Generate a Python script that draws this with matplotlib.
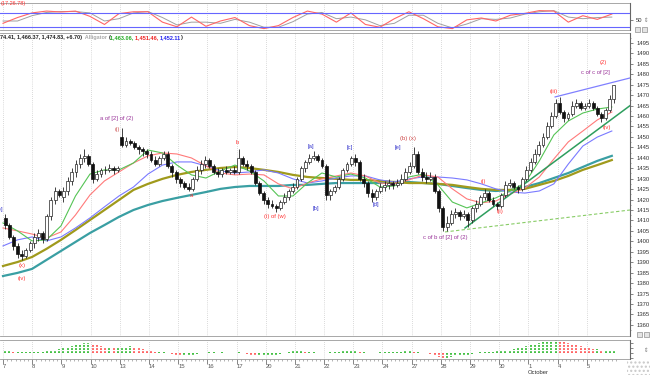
import numpy as np
import matplotlib.pyplot as plt
from matplotlib.patches import Rectangle

plt.rcParams['font.family'] = ['Liberation Sans', 'DejaVu Sans']

# trading days shown on the x axis (September ... October)
day_labels = ['7', '8', '9', '10', '13', '14', '15', '16', '17', '20', '21',
              '22', '23', '24', '27', '28', '29', '30', '1', '4', '5']

# hourly bars, one row per day (7 bars a day)
opens = [
    [1411, 1408, 1402, 1398, 1394, 1393, 1396],
    [1399, 1402, 1404, 1401, 1412, 1420, 1424],
    [1421, 1424, 1429, 1433, 1437, 1440, 1441],
    [1437, 1430, 1432, 1434, 1434, 1435, 1434],
    [1450, 1446, 1448, 1447, 1445, 1444, 1443],
    [1442, 1439, 1437, 1440, 1442, 1436, 1433],
    [1430, 1428, 1426, 1425, 1430, 1434, 1437],
    [1439, 1436, 1433, 1432, 1434, 1433, 1434],
    [1433, 1440, 1437, 1436, 1433, 1428, 1423],
    [1420, 1418, 1417, 1416, 1419, 1421, 1424],
    [1426, 1430, 1435, 1438, 1440, 1441, 1439],
    [1436, 1422, 1424, 1426, 1430, 1434, 1437],
    [1440, 1438, 1430, 1428, 1423, 1421, 1424],
    [1426, 1427, 1428, 1427, 1428, 1430, 1433],
    [1436, 1442, 1433, 1431, 1430, 1431, 1424],
    [1416, 1407, 1409, 1413, 1414, 1412, 1413],
    [1410, 1416, 1418, 1421, 1423, 1420, 1418],
    [1417, 1422, 1427, 1428, 1426, 1425, 1430],
    [1434, 1438, 1442, 1446, 1450, 1455, 1460],
    [1466, 1462, 1459, 1461, 1465, 1466, 1464],
    [1465, 1466, 1464, 1461, 1459, 1463, 1468],
]
highs = [
    [1413, 1409, 1403, 1399, 1396, 1397, 1400],
    [1404, 1406, 1405, 1413, 1421, 1426, 1425],
    [1426, 1431, 1435, 1439, 1442, 1444, 1442],
    [1438, 1434, 1435, 1436, 1437, 1436, 1436],
    [1454, 1450, 1449, 1448, 1446, 1445, 1444],
    [1443, 1441, 1441, 1443, 1443, 1437, 1434],
    [1431, 1429, 1428, 1431, 1436, 1439, 1441],
    [1440, 1437, 1435, 1435, 1436, 1435, 1436],
    [1444, 1441, 1439, 1437, 1434, 1429, 1424],
    [1421, 1420, 1418, 1420, 1423, 1425, 1428],
    [1431, 1436, 1439, 1442, 1443, 1442, 1440],
    [1437, 1425, 1427, 1431, 1435, 1438, 1441],
    [1442, 1439, 1432, 1429, 1425, 1425, 1428],
    [1429, 1430, 1429, 1430, 1432, 1435, 1438],
    [1445, 1443, 1435, 1433, 1433, 1432, 1425],
    [1417, 1412, 1415, 1416, 1415, 1415, 1414],
    [1417, 1420, 1422, 1425, 1424, 1421, 1419],
    [1423, 1429, 1430, 1429, 1427, 1431, 1436],
    [1440, 1444, 1448, 1452, 1457, 1462, 1468],
    [1469, 1463, 1462, 1467, 1468, 1467, 1466],
    [1468, 1467, 1465, 1462, 1464, 1470, 1475],
]
lows = [
    [1406, 1401, 1396, 1392, 1391, 1392, 1395],
    [1397, 1400, 1399, 1400, 1410, 1418, 1421],
    [1419, 1422, 1427, 1431, 1435, 1438, 1436],
    [1428, 1429, 1431, 1432, 1433, 1432, 1433],
    [1445, 1445, 1446, 1444, 1442, 1441, 1440],
    [1438, 1436, 1436, 1439, 1435, 1431, 1428],
    [1426, 1425, 1424, 1424, 1429, 1432, 1435],
    [1435, 1432, 1431, 1431, 1432, 1432, 1432],
    [1432, 1436, 1434, 1432, 1427, 1422, 1418],
    [1416, 1416, 1414, 1415, 1418, 1420, 1423],
    [1425, 1429, 1433, 1437, 1439, 1438, 1435],
    [1420, 1420, 1423, 1425, 1429, 1433, 1436],
    [1436, 1429, 1426, 1421, 1419, 1420, 1423],
    [1424, 1425, 1425, 1426, 1427, 1429, 1432],
    [1435, 1432, 1429, 1428, 1429, 1423, 1414],
    [1405, 1405, 1408, 1411, 1410, 1411, 1407],
    [1409, 1414, 1417, 1420, 1419, 1417, 1415],
    [1416, 1421, 1426, 1425, 1423, 1424, 1429],
    [1433, 1437, 1441, 1445, 1449, 1454, 1459],
    [1461, 1457, 1458, 1460, 1464, 1463, 1463],
    [1464, 1463, 1460, 1457, 1458, 1462, 1466],
]
closes = [
    [1408, 1402, 1398, 1394, 1393, 1396, 1399],
    [1402, 1404, 1401, 1412, 1420, 1424, 1422],
    [1424, 1429, 1433, 1437, 1440, 1441, 1437],
    [1430, 1432, 1434, 1434, 1435, 1434, 1435],
    [1446, 1448, 1447, 1445, 1444, 1443, 1442],
    [1439, 1437, 1440, 1442, 1436, 1433, 1430],
    [1428, 1426, 1425, 1430, 1434, 1437, 1439],
    [1436, 1433, 1432, 1434, 1433, 1434, 1433],
    [1440, 1437, 1436, 1433, 1428, 1423, 1420],
    [1418, 1417, 1416, 1419, 1421, 1424, 1426],
    [1430, 1435, 1438, 1440, 1441, 1439, 1436],
    [1422, 1424, 1426, 1430, 1434, 1437, 1440],
    [1438, 1430, 1428, 1423, 1421, 1424, 1426],
    [1427, 1428, 1427, 1428, 1430, 1433, 1436],
    [1442, 1433, 1431, 1430, 1431, 1424, 1416],
    [1407, 1409, 1413, 1414, 1412, 1413, 1410],
    [1416, 1418, 1421, 1423, 1420, 1418, 1417],
    [1422, 1427, 1428, 1426, 1425, 1430, 1434],
    [1438, 1442, 1446, 1450, 1455, 1460, 1466],
    [1462, 1459, 1461, 1465, 1466, 1464, 1465],
    [1466, 1464, 1461, 1459, 1463, 1468, 1474.83],
]

# oscillator histogram (bottom panel), one row per day
osc = [
    [2, 2, 1, 1, 1, 1, 1],
    [1, 1, 1, 2, 2, 3, 4],
    [5, 6, 7, 8, 9, 10, 10],
    [9, 8, 7, 6, 6, 5, 5],
    [6, 6, 7, 6, 5, 4, 3],
    [2, 1, 1, 1, 0, -1, -2],
    [-3, -3, -2, -2, -1, 0, 0],
    [1, 1, 0, 1, 0, 0, 0],
    [1, 0, -1, -2, -3, -3, -3],
    [-3, -3, -2, -1, 0, 1, 2],
    [2, 2, 1, 1, 1, 0, 0],
    [0, 1, 1, 1, 2, 2, 2],
    [2, 1, 1, 0, 0, 0, 1],
    [1, 1, 1, 1, 1, 2, 2],
    [1, 1, 0, 0, -1, -3, -4],
    [-5, -5, -4, -3, -3, -2, -2],
    [-1, 0, 1, 1, 1, 1, 2],
    [2, 3, 3, 4, 5, 6, 7],
    [8, 9, 10, 11, 12, 12, 13],
    [12, 11, 10, 9, 8, 7, 6],
    [5, 4, 4, 3, 3, 3, 3],
]

# moving averages / stochastic, read every half day
lips = [1408.8, 1405.0, 1400.2, 1400.7, 1407.4, 1421.7, 1432.2, 1434.2, 1434.2, 1437.5,
        1443.7, 1442.3, 1436.5, 1431.8, 1430.3, 1433.7, 1436.5, 1433.7, 1428.9, 1421.7,
        1421.7, 1427.9, 1432.7, 1430.8, 1432.2, 1430.3, 1426.0, 1426.5, 1430.8, 1432.2,
        1427.0, 1418.8, 1416.0, 1418.4, 1420.8, 1424.1, 1427.9, 1438.5, 1450.9, 1457.6,
        1461.4, 1463.3, 1464.3]
teeth = [1406.4, 1405.0, 1403.5, 1401.6, 1404.5, 1412.6, 1422.2, 1428.9, 1433.2, 1437.5,
         1440.9, 1442.3, 1441.8, 1439.9, 1436.1, 1432.7, 1431.8, 1432.2, 1431.8, 1427.5,
         1425.1, 1427.9, 1429.9, 1431.3, 1432.7, 1431.3, 1427.9, 1427.5, 1429.4, 1431.8,
         1430.8, 1425.1, 1420.3, 1418.4, 1419.3, 1422.7, 1425.5, 1430.8, 1439.4, 1447.6,
         1452.8, 1458.1, 1461.9]
jaw = [1397.8, 1400.7, 1402.1, 1400.2, 1402.1, 1406.4, 1411.2, 1416.5, 1421.7, 1426.0,
       1432.2, 1436.5, 1438.0, 1438.0, 1436.1, 1433.7, 1432.7, 1433.2, 1434.2, 1432.7,
       1429.9, 1427.9, 1428.9, 1430.3, 1431.3, 1431.3, 1429.4, 1428.4, 1429.9, 1430.8,
       1430.8, 1430.3, 1429.4, 1427.5, 1425.1, 1423.6, 1423.1, 1424.1, 1427.5, 1437.0,
       1445.6, 1449.9, 1452.8]
ma_olive = [1388.2, 1390.1, 1392.5, 1396.4, 1400.7, 1405.4, 1410.2, 1415.0, 1419.8, 1424.6,
            1427.5, 1429.9, 1431.8, 1433.2, 1434.2, 1435.1, 1435.6, 1435.1, 1434.2, 1433.2,
            1431.8, 1430.8, 1430.3, 1429.9, 1429.4, 1429.4, 1428.9, 1428.4, 1427.9, 1427.9,
            1427.5, 1427.0, 1426.0, 1425.1, 1424.6, 1424.6, 1425.1, 1427.0, 1428.9, 1431.3,
            1434.2, 1436.5, 1438.9]
ma_teal = [1383.4, 1384.9, 1386.8, 1391.1, 1395.4, 1399.7, 1404.0, 1407.8, 1411.7, 1415.0,
           1417.4, 1419.3, 1420.8, 1422.2, 1423.6, 1425.1, 1426.0, 1426.5, 1426.5, 1426.5,
           1427.0, 1427.0, 1427.5, 1427.9, 1427.9, 1427.9, 1427.9, 1428.4, 1428.4, 1427.9,
           1427.5, 1426.5, 1425.5, 1424.6, 1424.1, 1424.6, 1426.0, 1427.9, 1430.3, 1432.7,
           1435.6, 1438.5, 1440.9]
stoch_k = [35, 60, 80, 88, 84, 88, 65, 30, 77, 85, 85, 40, 20, 62, 22, 45, 60, 25, 12, 25,
           60, 88, 75, 40, 80, 30, 18, 55, 85, 55, 20, 12, 50, 58, 45, 70, 78, 90, 88, 40,
           68, 52, 75]
stoch_d = [45, 45, 68, 82, 86, 86, 80, 45, 55, 80, 86, 60, 28, 40, 40, 35, 52, 40, 18, 18,
           42, 75, 82, 55, 62, 50, 25, 35, 70, 70, 35, 15, 32, 55, 52, 58, 75, 85, 90, 62,
           55, 60, 62]

# trend lines: (bar, price) end points
upper_line = ([131.9, 149.9], [1469.1, 1478.2])
support_line = ([110.3, 149.9], [1406.4, 1465.0])
lower_line = ([105.5, 149.9], [1404.5, 1415.0])

# wave count labels: bar, price, text, colour
waves = [
    (-1.2, 1415.0, '[e]', '#3333cc'),
    (4.1, 1388.4, '(x)', '#ff3333'),
    (4.1, 1382.2, '(iv)', '#ff3333'),
    (26.8, 1459.0, 'a of [2] of (2)', '#993399'),
    (26.8, 1453.3, '(i)', '#cc5555'),
    (44.6, 1421.7, 'a', '#ff3333'),
    (55.6, 1447.1, 'b', '#ff3333'),
    (64.7, 1411.7, '(i) of (w)', '#ff3333'),
    (73.4, 1445.2, '[a]', '#3333cc'),
    (74.6, 1415.5, '[b]', '#3333cc'),
    (82.7, 1444.7, '[c]', '#3333cc'),
    (88.9, 1417.4, '[d]', '#3333cc'),
    (94.2, 1444.7, '[e]', '#3333cc'),
    (96.6, 1449.0, '(b) (x)', '#cc4444'),
    (105.5, 1401.6, 'c of b of [2] of (2)', '#993399'),
    (114.6, 1428.4, '(i)', '#ff3333'),
    (118.7, 1414.1, '(ii)', '#ff3333'),
    (131.6, 1471.5, '(iii)', '#ff3333'),
    (144.3, 1454.7, '(iv)', '#ff3333'),
    (141.5, 1480.6, 'c of c of [2]', '#993399'),
    (143.4, 1485.4, '(2)', '#ff3333'),
]

o = np.array(opens, dtype=float).ravel()
h = np.array(highs, dtype=float).ravel()
l = np.array(lows, dtype=float).ravel()
c = np.array(closes, dtype=float).ravel()
ao = np.array(osc, dtype=float).ravel()
x = np.arange(len(c))
ma_t = np.linspace(-0.5, 145.5, len(lips))
day_starts = np.arange(len(day_labels)) * 7 - 0.5

W, H = 650, 375


def box(x0, y0, x1, y1):
    return [x0 / W, 1 - y1 / H, (x1 - x0) / W, (y1 - y0) / H]


fig = plt.figure(figsize=(6.5, 3.75), dpi=100)
ax_st = fig.add_axes(box(0, 3, 630, 30))
ax = fig.add_axes(box(0, 33, 630, 336))
ax_ao = fig.add_axes(box(0, 340, 630, 359))

for a in (ax_st, ax, ax_ao):
    a.set_xlim(-1.22, 149.86)
    for xb in day_starts:
        a.axvline(xb, color='#b8b8b8', lw=0.5, ls=(0, (1, 2)), zorder=0)
    a.spines['left'].set_visible(False)
    a.spines['right'].set_color('#666666')
    a.spines['right'].set_linewidth(0.8)
    for s in ('top', 'bottom'):
        a.spines[s].set_color('#999999')
        a.spines[s].set_linewidth(0.6)
        a.spines[s].set_linestyle((0, (1, 1)))
    a.yaxis.tick_right()
    a.tick_params(axis='y', labelsize=4.2, length=2, width=0.5, pad=2.5,
                  colors='#555555', labelcolor='#333333')

# stochastic panel
ax_st.plot(ma_t, stoch_d, color='#a0a0a0', lw=0.7)
ax_st.plot(ma_t, stoch_k, color='#ff6666', lw=0.8)
ax_st.axhline(80, color='#6666ff', lw=0.8)
ax_st.axhline(20, color='#6666ff', lw=0.8)
ax_st.set_ylim(6, 123)
ax_st.set_yticks([50])
ax_st.set_xticks([])
fig.text(1 / W, 1 - 1 / H, '(17.26.78)', fontsize=4, color='#ff3333',
         va='top', ha='left')

# main price panel
ax.plot(ma_t, ma_teal, color='#3a9fa3', lw=1.6, zorder=2)
ax.plot(ma_t, ma_olive, color='#a09a1c', lw=1.6, zorder=2)
ax.plot(ma_t, jaw, color='#7a7aff', lw=0.8, zorder=2)
ax.plot(ma_t, teeth, color='#ff7a7a', lw=0.8, zorder=2)
ax.plot(ma_t, lips, color='#55c455', lw=0.8, zorder=2)
ax.plot(*upper_line, color='#8080ff', lw=0.9, zorder=2)
ax.plot(*support_line, color='#2e9e5e', lw=1.1, zorder=2)
ax.plot(*lower_line, color='#88cc66', lw=0.8, ls=(0, (3, 2)), zorder=2)

up = c >= o
ax.vlines(x, l, h, color='#222222', lw=0.6, zorder=3)
ax.bar(x[up], (c - o)[up], bottom=o[up], width=0.7, color='white',
       edgecolor='#222222', lw=0.5, zorder=4)
ax.bar(x[~up], (o - c)[~up], bottom=c[~up], width=0.7, color='#111111',
       edgecolor='#111111', lw=0.5, zorder=4)

for bx, py, txt, col in waves:
    ax.text(bx, py, txt, fontsize=4.2, color=col, ha='center', va='center',
            zorder=5, clip_on=True)

ax.set_ylim(1354.7, 1499.7)
ax.set_yticks(np.arange(1360, 1500, 5))
ax.set_yticks(np.arange(1357.5, 1500, 2.5), minor=True)
ax.tick_params(axis='y', which='minor', length=1, width=0.4, colors='#555555')
ax.set_xticks([])

# header line: last bar values and alligator values
prev = ax.text(0, 1 - 5 / 303, '74.41, 1,466.37, 1,474.83, +6.70)',
               transform=ax.transAxes, fontsize=4, color='#222222',
               va='center', ha='left', fontweight='bold')
for part, col in [('  Alligator ', '#aaaaaa'), ('(', '#222222'),
                  ('1,463.06, ', '#22aa22'), ('1,451.46, ', '#ee2222'),
                  ('1,452.11', '#2222ee'), (')', '#222222')]:
    prev = ax.annotate(part, xy=(1, 0.5), xycoords=prev, fontsize=4, color=col,
                       va='center', ha='left', fontweight='bold',
                       annotation_clip=False)

# oscillator panel
cols = ['#33bb33' if i == 0 or ao[i] >= ao[i - 1] else '#ff5555' for i in range(len(ao))]
ax_ao.vlines(x, 0, ao, colors=cols, lw=1.3, linestyles=(0, (1, 0.7)))
ax_ao.set_ylim(-6.5, 13.5)
ax_ao.set_yticks([-5, 0, 5, 10])
ax_ao.set_yticklabels([])
ax_ao.set_xticks(day_starts)
ax_ao.set_xticklabels(day_labels, fontsize=4.2, ha='left', color='#333333')
ax_ao.set_xticks(np.arange(-0.5, 147, 1), minor=True)
ax_ao.tick_params(axis='x', which='major', length=3.5, width=0.5, pad=0.3, colors='#555555')
ax_ao.tick_params(axis='x', which='minor', length=1.5, width=0.4, colors='#777777')
for lab in ax_ao.get_xticklabels():
    lab.set_x(lab.get_position()[0])
fig.text(528 / W, 1 - 372 / H, 'October', fontsize=4.2, color='#333333',
         ha='left', va='center')

# window furniture: small panel buttons, scroll marks, corner grip
for bx0, by0 in [(635, 27), (642, 27), (637, 332), (644, 332)]:
    fig.patches.append(Rectangle((bx0 / W, 1 - (by0 + 5) / H), 5 / W, 5 / H,
                                 transform=fig.transFigure, facecolor='#e4e4e4',
                                 edgecolor='#777777', lw=0.4))
fig.text(646 / W, 1 - 20 / H, '⇕', fontsize=4, color='#777777', ha='center', va='center')
fig.text(646 / W, 1 - 350 / H, '⇕', fontsize=4, color='#777777', ha='center', va='center')
fig.patches.append(Rectangle((627 / W, 0), 23 / W, 15 / H, transform=fig.transFigure,
                             facecolor='white', edgecolor='#c8c8c8', hatch='....', lw=0))

fig.savefig('out.png', dpi=100)
